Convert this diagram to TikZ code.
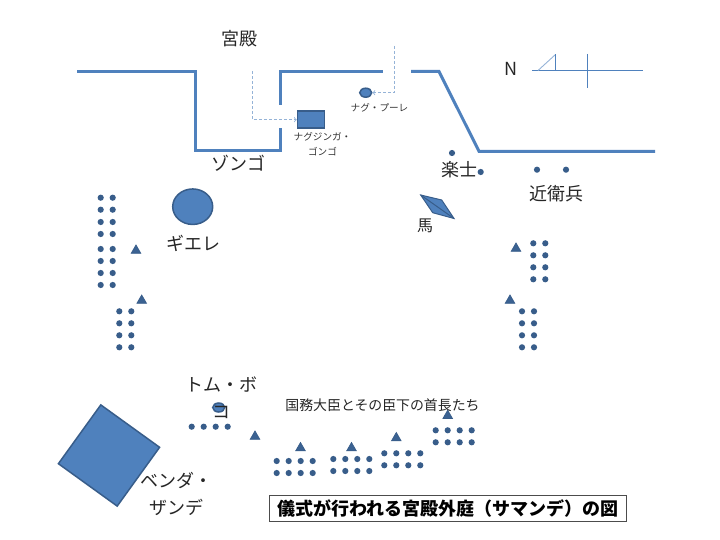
\documentclass[tikz,border=0pt]{standalone}
\usepackage{fontspec}
\setmainfont{Noto Sans CJK JP}
\usetikzlibrary{shapes.geometric, arrows}
\definecolor{wallblue}{HTML}{4F81BD}
\definecolor{edgeblue}{HTML}{385D8A}
\definecolor{pathblue}{HTML}{95B3D7}
\tikzset{
  wall/.style={draw=wallblue, line width=3pt, line join=miter},
  solid shape/.style={draw=edgeblue, fill=wallblue, line width=1.5pt, inner sep=0pt},
  soldier/.style={circle, fill=edgeblue, inner sep=0pt, minimum size=6.2pt},
  chief/.style={regular polygon, regular polygon sides=3, draw=edgeblue, fill=edgeblue!85!wallblue, line width=.7pt, inner sep=0pt, minimum size=11pt},
  walk/.style={->, >=to, densely dashed, draw=pathblue, line width=.9pt},
  big/.style={text=black!85, font=\fontsize{18}{27}\selectfont, align=center, inner sep=0pt},
  small/.style={text=black!80, font=\fontsize{9.6}{15}\selectfont, align=center, inner sep=0pt}
}
\begin{document}
\begin{tikzpicture}[x=1pt, y=-1pt]
  \useasboundingbox (0,0) rectangle (720,540);

  % palace walls
  \draw[wall] (77,71.5) -- (195,71.5) -- (195,150.8) -- (280.5,150.8) -- (280.5,128);
  \draw[wall] (280.5,105) -- (280.5,71.5) -- (383,71.5);
  \draw[wall] (411,71.5) -- (439,71.5) -- (479,151.3) -- (655,151.3);

  % north sign
  \draw[draw=wallblue, line width=1.2pt] (532,70.5) -- (643,70.5);
  \draw[draw=wallblue, line width=.8pt] (587.3,54) -- (587.3,88);
  \draw[draw=pathblue, line width=.9pt] (538,70.5) -- (555.5,54.5);
  \draw[draw=wallblue, line width=.8pt] (555.5,54.5) -- (555.5,70.5);
  \node[big, font=\fontsize{18}{18}\selectfont] (north) at (511,69) {N};

  % figures
  \node[solid shape, rectangle, minimum width=27pt, minimum height=17pt] (gongo) at (311,119.7) {};
  \node[solid shape, ellipse, minimum width=12pt, minimum height=9pt] (pule) at (365.7,92.7) {};
  \node[solid shape, circle, ellipse, minimum width=40pt, minimum height=35.5pt] (gyere) at (192.7,206.7) {};
  \node[solid shape, ellipse, minimum width=12pt, minimum height=9pt] (bokko) at (218.7,407.5) {};
  \node[solid shape, rectangle, rotate=-35.8, minimum size=72.5pt] (zande) at (109,455.5) {};

  % horse
  \coordinate (h1) at (420.7,195);
  \coordinate (h2) at (441.7,200);
  \coordinate (h3) at (454,218.5);
  \coordinate (h4) at (432.7,212.7);
  \draw[draw=edgeblue, fill=wallblue, line width=1pt] (h1) -- (h2) -- (h3) -- (h4) -- cycle;
  \draw[draw=edgeblue, line width=1pt] (h1) -- (h3);

  % paths into the palace
  \coordinate (gate) at (252,71.5);
  \coordinate (back) at (394,46);
  \draw[walk] (gate) |- (gongo.west);
  \draw[walk] (back) |- (pule.east);

  % guards
  \foreach \x/\y [count=\i] in {452/153, 480.7/172, 537/169.7, 566/169.7}
    \node[soldier] (guard\i) at (\x,\y) {};

  % left files
  \foreach \y [count=\i] in {197.7, 209.7, 222, 234, 249, 261, 273, 285} {
    \node[soldier] (la\i) at (100.7,\y) {};
    \node[soldier] (lb\i) at (112.7,\y) {};
  }
  \foreach \y [count=\i] in {311.3, 323.3, 335.3, 347.3} {
    \node[soldier] (lc\i) at (119.3,\y) {};
    \node[soldier] (ld\i) at (131.3,\y) {};
    % right files
    \node[soldier] (ra\i) at (533.3,\y-68) {};
    \node[soldier] (rb\i) at (545.3,\y-68) {};
    \node[soldier] (rc\i) at (522,\y) {};
    \node[soldier] (rd\i) at (534,\y) {};
  }
  \foreach \x [count=\i] in {191.7, 203.7, 215.7, 227.7}
    \node[soldier] (bk\i) at (\x,426.7) {};

  % ministers and chiefs
  \foreach \g/\x/\y in {a/276.7/461, b/333.3/459, c/384.3/453.3, d/435.7/430.3}
    \foreach \i in {0,1,2,3} {
      \node[soldier] (\g\i) at (\x+12*\i,\y) {};
      \node[soldier] (\g\i') at (\x+12*\i,\y+12) {};
    }

  % leaders
  \foreach \x/\y [count=\i] in {136/250.5, 141.7/300.5, 516/248.5, 510/300.5, 255/436.5, 300.5/448, 351.5/448, 396.3/438, 447.7/415.7}
    \node[chief] (leader\i) at (\x,\y) {};

  % labels
  \node[big] (palace) at (239,38.5) {宮殿};
  \node[big] (zongo) at (238.5,163.5) {ゾンゴ};
  \node[small] (pulename) at (379.5,108) {ナグ・プーレ};
  \node[small] (gongoname) at (322.5,144.5) {ナグジンガ・\\ゴンゴ};
  \node[big] (band) at (459,169.5) {楽士};
  \node[big] (guards) at (556,193.5) {近衛兵};
  \node[big, font=\fontsize{16}{16}\selectfont] (horse) at (425,226) {馬};
  \node[big] (gyerename) at (193,243.5) {ギエレ};
  \node[big] (bokkoname) at (221.5,397.5) {トム・ボ\\コ};
  \node[big] (zandename) at (176,493.5) {ベンダ・\\ザンデ};
  \node[big, font=\fontsize{13.9}{14}\selectfont] (ministers) at (382.5,405) {国務大臣とその臣下の首長たち};
  \node[draw=black!70, line width=1pt, text=black, font=\fontsize{18}{18}\bfseries\selectfont, minimum width=357pt, minimum height=26pt, inner sep=0pt] (title) at (448,508.7) {儀式が行われる宮殿外庭（サマンデ）の図};
\end{tikzpicture}
\end{document}
